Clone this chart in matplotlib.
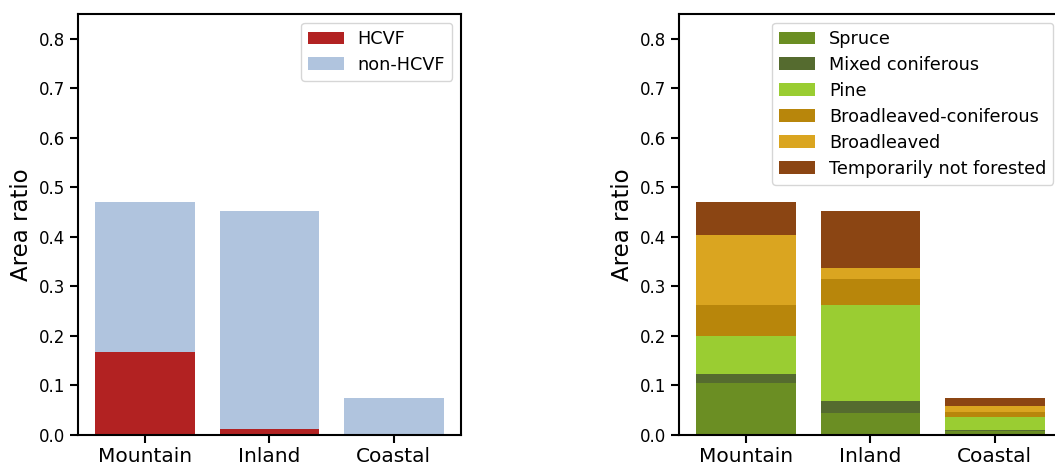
import numpy as np
import matplotlib
matplotlib.use('Agg')
import matplotlib.pyplot as plt

regions = ['Mountain', 'Inland', 'Coastal']

# Panel a: HCVF vs non-HCVF (stacked, total = forest area ratio)
hcvf = [0.168, 0.012, 0.0]
non_hcvf = [0.303, 0.441, 0.075]

# Panel b: forest types
forest_types = ['Spruce', 'Mixed coniferous', 'Pine', 'Broadleaved-coniferous',
                'Broadleaved', 'Temporarily not forested']
spruce = [0.104, 0.045, 0.009]
mixed_coniferous = [0.019, 0.024, 0.001]
pine = [0.077, 0.194, 0.026]
broadleaved_coniferous = [0.063, 0.052, 0.011]
broadleaved = [0.140, 0.023, 0.012]
not_forested = [0.068, 0.115, 0.015]

type_colors = ['olivedrab', 'darkolivegreen', 'yellowgreen',
               'darkgoldenrod', 'goldenrod', 'saddlebrown']

plt.rcParams['font.family'] = 'DejaVu Sans'

fig = plt.figure(figsize=(10.55, 4.63), dpi=100)
ax1 = fig.add_axes([78 / 1055, 28 / 463, 383 / 1055, 421 / 463])
ax2 = fig.add_axes([679 / 1055, 28 / 463, 383 / 1055, 421 / 463])

x = np.arange(len(regions))

# Panel a
ax1.bar(x, hcvf, width=0.8, color='firebrick', label='HCVF')
ax1.bar(x, non_hcvf, width=0.8, bottom=hcvf, color='lightsteelblue', label='non-HCVF')

# Panel b
bottom = np.zeros(len(regions))
for name, vals, col in zip(forest_types,
                           [spruce, mixed_coniferous, pine, broadleaved_coniferous,
                            broadleaved, not_forested],
                           type_colors):
    ax2.bar(x, vals, width=0.8, bottom=bottom, color=col, label=name)
    bottom += np.array(vals)

for ax in (ax1, ax2):
    ax.set_ylim(0, 0.85)
    ax.set_yticks(np.arange(0, 0.81, 0.1))
    ax.set_yticklabels([f'{v:.1f}' for v in np.arange(0, 0.81, 0.1)])
    ax.set_xticks(x)
    ax.set_xticklabels(regions, fontsize=14.5)
    ax.tick_params(axis='y', labelsize=12, length=6, width=1.5)
    ax.tick_params(axis='x', length=6, width=1.5, pad=2.5)
    ax.set_ylabel('Area ratio', fontsize=16.5)
    for s in ax.spines.values():
        s.set_linewidth(1.5)
    ax.legend(loc='upper right', fontsize=12.7, handlelength=2.0, labelspacing=0.45)

fig.savefig('out.png', dpi=100)
